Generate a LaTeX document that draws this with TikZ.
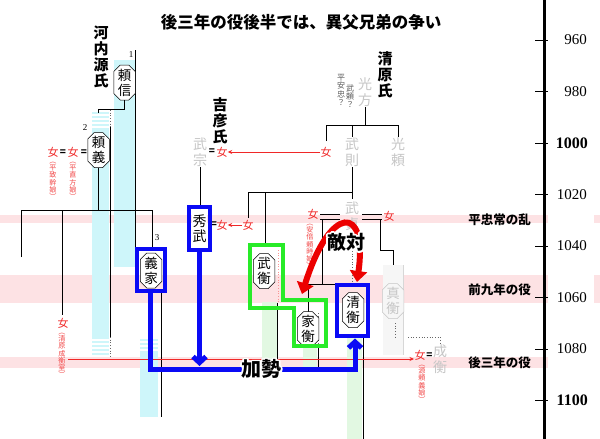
\documentclass[tikz,border=0pt]{standalone}
\usepackage{fontspec}
\setmainfont{Liberation Serif}
\newfontfamily\jp{Noto Sans CJK JP}
\usetikzlibrary{shapes.misc,arrows.meta}
\definecolor{bandpink}{RGB}{253,226,228}
\definecolor{lcyan}{RGB}{206,246,250}
\definecolor{lgreen}{RGB}{226,248,226}
\definecolor{lgrey}{RGB}{246,246,246}
\definecolor{gname}{RGB}{198,198,198}
\definecolor{fred}{RGB}{240,40,40}
\definecolor{kgreen}{RGB}{40,235,40}
\definecolor{kblue}{RGB}{10,10,245}
\definecolor{kred}{RGB}{236,0,0}
\tikzset{
 namebox/.style={chamfered rectangle, chamfered rectangle xsep=3.5pt, chamfered rectangle angle=45, draw=black, line width=0.5pt, fill=white, inner sep=0.5pt, minimum width=19pt, minimum height=35pt, align=center, font=\jp\fontsize{13.5}{15}\selectfont},
 plainname/.style={fill=white, inner sep=0.5pt, align=center, font=\jp\fontsize{14}{15.5}\selectfont},
 greyname/.style={text=gname, inner sep=0.5pt, align=center, font=\jp\fontsize{14}{15.5}\selectfont},
 fem/.style={text=fred, inner sep=0pt, font=\jp\fontsize{11}{11.5}\selectfont},
 eq/.style={inner sep=0.3pt, font=\jp\bfseries\fontsize{10}{10}\selectfont},
 note/.style={text=fred!85, inner sep=0pt, align=center, font=\jp\fontsize{7.1}{7.2}\selectfont},
 qnote/.style={text=black!65, inner sep=0pt, align=center, font=\jp\fontsize{8}{8.3}\selectfont},
 clan/.style={inner sep=0pt, align=center, font=\jp\bfseries\fontsize{15}{15.8}\selectfont},
 kin/.style={draw=black, line width=0.8pt},
 life/.style={draw=black, line width=0.6pt},
 dotl/.style={draw=black!60, line width=0.7pt, dash pattern=on 0.7pt off 2pt},
 bluebox/.style={draw=kblue, line width=4.5pt},
 bluepath/.style={draw=kblue, line width=5pt},
 greenbox/.style={draw=kgreen, line width=4.5pt, line join=miter},
 fline/.style={draw=fred, line width=0.8pt},
 ftip/.style={-{Stealth[length=4.5pt,width=4pt]}},
 num/.style={inner sep=0pt, font=\fontsize{9}{9}\selectfont},
 yearlab/.style={anchor=east, inner sep=0pt, font=\fontsize{15}{15}\selectfont},
 eventlab/.style={anchor=east, inner sep=0pt, font=\jp\bfseries\fontsize{12.5}{13}\selectfont},
 bigtxt/.style={inner sep=0pt, font=\jp\bfseries\fontsize{19}{20}\selectfont},
 stripe/.style={draw=white, line width=1.1pt},
}
\newcommand\halotxt[1]{\special{pdf:literal direct 1 Tr 3.8 w 1 j 1 1 1 RG}#1\special{pdf:literal direct 0 Tr 0 0 0 RG 1 w 0 j}}
\begin{document}
\begin{tikzpicture}[x=1pt,y=-1pt]
\useasboundingbox (0,0) rectangle (600,439);
\fill[white] (0,0) rectangle (600,439);
% event bands
\foreach \ya/\yb in {215/223, 275/303, 357/368}{\fill[bandpink] (0,\ya) rectangle (548,\yb);}
\fill[bandpink] (594,215) rectangle (600,223);
\fill[bandpink] (594,275) rectangle (600,303);
% lifespan bars
\fill[lcyan] (114,60) rectangle (135,267);
\fill[lcyan] (92,112) rectangle (109,357);
\foreach \s in {115,119,123,127,340,344,348,352,356}{\draw[stripe] (91,\s) -- (109,\s);}
\fill[lcyan] (140,337) rectangle (158,417);
\foreach \s in {338,342,346,350}{\draw[stripe] (139,\s) -- (158,\s);}
\fill[lgreen] (262,302) rectangle (277,370);
\fill[lgreen] (303,348) rectangle (317,370);
\fill[lgreen] (347,338) rectangle (362,439);
\fill[lgrey] (383,265) rectangle (403,355);
\draw[gname!70, line width=0.5pt] (403,265) -- (403,355);
% life lines
\draw[life] (135,50) -- (135,267);
\draw[dotl] (110,110) -- (110,127);
\draw[life] (110,127) -- (110,337);
\draw[dotl] (110,337) -- (110,357);
\draw[life] (161,293) -- (161,417);
\draw[dotl, draw=fred!50] (278,250) -- (278,302);
\draw[life] (277,303) -- (277,370);
\draw[dotl] (318,313) -- (318,346);
\draw[life] (318,348) -- (318,370);
\draw[life] (363,338) -- (363,439);
\draw[dotl] (352,232) -- (352,283);
\draw[dotl] (395,323) -- (395,337);
\draw[dotl] (408,337) -- (440,337) -- (440,344);
% axis
\draw[line width=2.6pt] (544.5,0) -- (544.5,439);
\foreach \yr in {960,980,...,1100}{
  \pgfmathsetmacro{\yy}{40+(\yr-960)*2.575}
  \draw[line width=1pt] (535,\yy) -- (548,\yy);
}
\node[yearlab] (y960) at (587,40) {960};
\node[yearlab] (y980) at (587,91.5) {980};
\node[yearlab, font=\bfseries\fontsize{16}{16}\selectfont] (y1000) at (588,143) {1000};
\node[yearlab] (y1020) at (587,194.5) {1020};
\node[yearlab] (y1040) at (587,246) {1040};
\node[yearlab] (y1060) at (587,297.5) {1060};
\node[yearlab] (y1080) at (587,349) {1080};
\node[yearlab, font=\bfseries\fontsize{16}{16}\selectfont] (y1100) at (588,400.5) {1100};
\node[eventlab] (ev1) at (531,220) {平忠常の乱};
\node[eventlab] (ev2) at (531,290) {前九年の役};
\node[eventlab] (ev3) at (531,363) {後三年の役};
% title and clans
\node[inner sep=0pt, font=\jp\bfseries\fontsize{16.5}{16.5}\selectfont] (title) at (301,22) {後三年の役後半では、異父兄弟の争い};
\node[clan] (kawachi) at (101,57) {河\\内\\源\\氏};
\node[clan] (kibiko) at (220,121) {吉\\彦\\氏};
\node[clan] (kiyohara) at (385,75) {清\\原\\氏};
% Minamoto
\node[namebox] (yorinobu) at (124.5,82.5) {頼\\信};
\node[num] (n1) at (131,55) {1};
\node[namebox] (yoriyoshi) at (98.5,150) {頼\\義};
\node[num] (n2) at (85,128) {2};
\coordinate (ybar) at (98.5,113);
\draw[kin] (yorinobu.south) |- (ybar |- 0,109) -- (ybar);
\node[fem] (wa) at (53,152) {女};
\node[eq] (eqa) at (63,153) {=};
\node[fem] (wb) at (73,152) {女};
\node[eq] (eqb) at (84,153) {=};
\node[note, anchor=north] (nta) at (53,162) {︵\\平\\致\\幹\\娘\\︶};
\node[note, anchor=north] (ntb) at (73,162) {︵\\平\\直\\方\\娘\\︶};
\coordinate (jy) at (98.5,210);
\draw[kin] (yoriyoshi.south) -- (jy);
\draw[kin] (21,257) -- (21,210) -- (152,210) -- (152,247);
\draw[kin] (62,210) -- (62,315);
\node[num] (n3) at (157,238) {3};
\node[fem] (ws) at (63,323) {女};
\node[note, anchor=north] (nts) at (62,333) {︵\\清\\原\\成\\衡\\室\\︶};
\node[namebox] (yoshiie) at (151,270.5) {義\\家};
% Kiyohara top
\node[greyname] (mitsukata) at (365,92) {光\\方};
\node[qnote] (qa) at (350,96) {武\\頼\\？};
\node[qnote] (qb) at (341,90) {平\\安\\忠\\？};
\draw[kin] (mitsukata.south) -- (365,125);
\draw[kin] (326,141) -- (326,125) -- (398,125) -- (398,137);
\draw[kin] (352,125) -- (352,137);
\node[fem] (kf1) at (326,152) {女};
\node[greyname] (takenori) at (352,152) {武\\則};
\node[greyname] (mitsuyori) at (398,152) {光\\頼};
% Kibiko
\node[greyname] (takemune) at (200,152) {武\\宗};
\node[eq] (eqk) at (212,152) {=};
\node[fem] (kibf) at (222,152) {女};
\draw[fline, ftip] (kf1.west) -- (kibf.east);
\draw[kin] (takemune.south) -- (200,206);
\node[plainname] (hidetake) at (199.5,228.5) {秀\\武};
\node[eq] (eqh) at (214,225) {=};
\node[fem] (hf) at (222,225) {女};
\node[fem] (kf2) at (248,225) {女};
\draw[fline, ftip] (kf2.west) -- (hf.east);
% Takenori children
\node[greyname] (takesada) at (352,216) {武\\貞};
\draw[kin] (takenori.south) -- (352,199);
\draw[kin] (248,218) -- (248,192) -- (352,192);
\draw[kin] (265,192) -- (265,245);
\node[fem] (kf3) at (313,214) {女};
\node[note, anchor=north] (nta3) at (310,224) {︵\\安\\倍\\頼\\時\\娘\\︶};
\node[fem] (kf4) at (389,216) {女};
\draw[kin] (320,214.5) -- (340,214.5) (320,219) -- (340,219);
\draw[kin] (362,214.5) -- (382,214.5) (362,219) -- (382,219);
\draw[kin] (322,219) -- (322,284);
\draw[kin] (308,313) -- (308,284) -- (335,284);
\draw[kin] (380,219) -- (380,250) -- (393,250) -- (393,265);
\node[namebox] (takehira) at (264,271) {武\\衡};
\node[namebox] (iehira) at (308,329) {家\\衡};
\node[namebox] (kiyohira) at (353,310) {清\\衡};
\node[namebox, draw=gname, text=gname, fill=lgrey] (sanehira) at (393,301) {真\\衡};
% Nari-hira
\draw[fline, ftip] (68,359) -- (414,359);
\node[fem] (kf5) at (420,355) {女};
\node[eq] (eq5) at (429.5,356) {=};
\node[note, anchor=north] (nt5) at (422,365) {︵\\源\\頼\\義\\娘\\︶};
\node[greyname] (narihira) at (440,359) {成\\衡};
% boxes
\draw[bluebox] (137,249) rectangle (165,291);
\draw[bluebox] (189,207) rectangle (210,250);
\draw[bluebox] (337,285) rectangle (368,336);
\draw[greenbox] (250,245) -- (283,245) -- (283,300) -- (326,300) -- (326,346) -- (294,346) -- (294,308) -- (250,308) -- cycle;
% support arrows
\draw[bluepath, line join=miter, -{Straight Barb[length=6pt,width=13pt]}] (150,293) -- (150,369) -- (355,369) -- (355,338.5);
\draw[bluepath, -{Straight Barb[length=6pt,width=13pt]}] (199.5,252) -- (199.5,366);
% hostility arrow
\draw[kred, line width=6pt, {Triangle[length=11pt,width=17pt]}-{Triangle[length=11pt,width=17pt]}] (302,294) .. controls (330,204) and (368,204) .. (357,282);
% halo labels
\node[bigtxt] (tekitaih) at (346,242) {\halotxt{敵対}};
\node[bigtxt] (tekitai) at (346,242) {敵対};
\node[bigtxt, font=\jp\bfseries\fontsize{20}{20}\selectfont] (kaseih) at (261,369) {\halotxt{加勢}};
\node[bigtxt, font=\jp\bfseries\fontsize{20}{20}\selectfont] (kasei) at (261,369) {加勢};
\end{tikzpicture}
\end{document}
